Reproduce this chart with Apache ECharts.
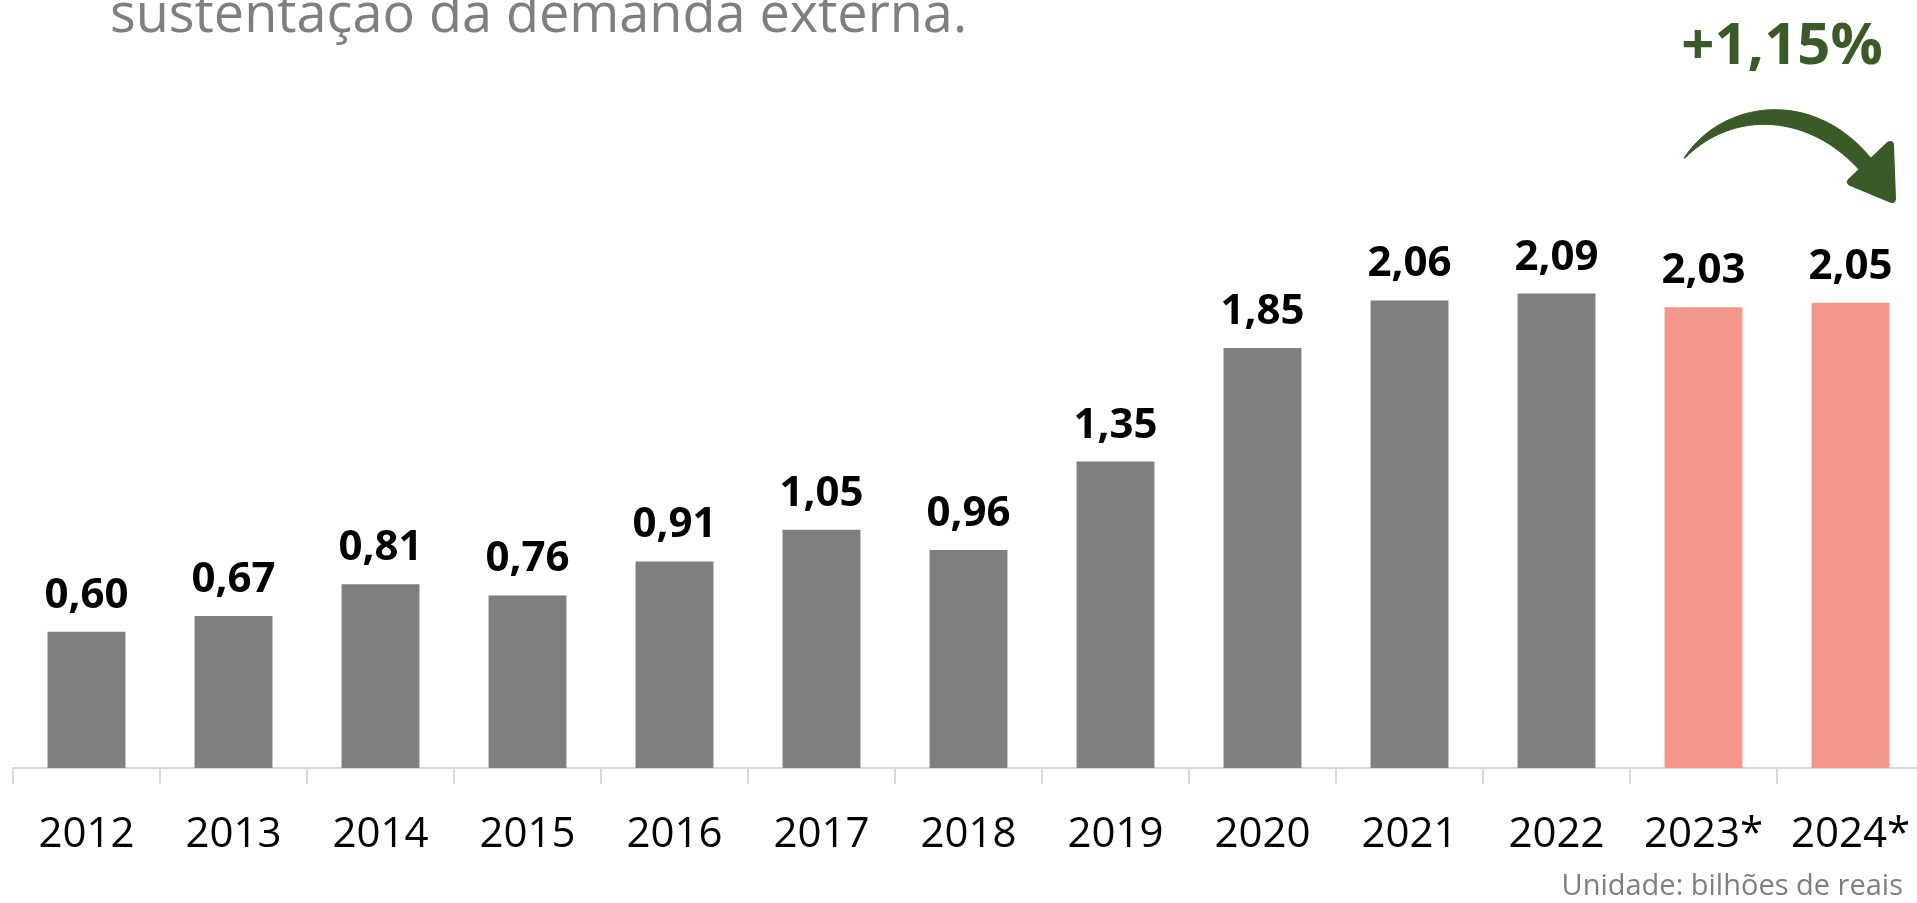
<!DOCTYPE html>
<html>
<head>
<meta charset="utf-8">
<script src="https://cdn.jsdelivr.net/npm/echarts@6/dist/echarts.min.js"></script>
<style>
html,body{margin:0;padding:0;background:#fff;}
#chart{width:1917px;height:903px;}
</style>
</head>
<body>
<div id="chart"></div>
<script>
const categories = ['2012','2013','2014','2015','2016','2017','2018','2019','2020','2021','2022','2023*','2024*'];
const values = [0.60,0.67,0.81,0.76,0.91,1.05,0.96,1.35,1.85,2.06,2.09,2.03,2.05];
const projected = [false,false,false,false,false,false,false,false,false,false,false,true,true];
const titleText = 'sustentaçao da demanda externa.';
const growthText = '+1,15%';
const unitText = 'Unidade: bilhões de reais';

const GRAY = '#7f7f7f';
const SALMON = '#f4978a';
const GREEN = '#3a5a27';
const FONT = '"Open Sans", "Noto Sans", sans-serif';

// decorative curved arrow outline (sampled cubic curves)
function cubic(p0, p1, p2, p3, n) {
  const pts = [];
  for (let i = 0; i <= n; i++) {
    const t = i / n, u = 1 - t;
    pts.push([
      u*u*u*p0[0] + 3*u*u*t*p1[0] + 3*u*t*t*p2[0] + t*t*t*p3[0],
      u*u*u*p0[1] + 3*u*u*t*p1[1] + 3*u*t*t*p2[1] + t*t*t*p3[1]
    ]);
  }
  return pts;
}
const shaft = cubic([1684,158],[1722,100],[1815,86],[1874,162],40)
  .concat(cubic([1863,174],[1812,114],[1735,108],[1685,158],40));

const chart = echarts.init(document.getElementById('chart'));
chart.setOption({
  animation: false,
  backgroundColor: '#ffffff',
  grid: {left: 13, width: 1911, top: 87, height: 681, containLabel: false, outerBoundsMode: 'none'},
  xAxis: {
    type: 'category',
    data: categories,
    axisLine: {lineStyle: {color: '#d9d9d9', width: 2}},
    axisTick: {show: true, interval: 0, length: 16, lineStyle: {color: '#d9d9d9', width: 2}},
    axisLabel: {interval: 0, color: '#000', fontSize: 42, fontFamily: FONT, margin: 46}
  },
  yAxis: {type: 'value', min: 0, max: 3, show: false, splitLine: {show: false}},
  series: [{
    type: 'bar',
    barWidth: '53%',
    data: values.map((v, i) => ({value: v, itemStyle: {color: projected[i] ? SALMON : GRAY}})),
    label: {
      show: true, position: 'top', distance: 15,
      color: '#000', fontSize: 42, fontWeight: 'bold', fontFamily: FONT,
      formatter: p => p.value.toFixed(2).replace('.', ',')
    }
  }],
  graphic: [
    {type: 'text', x: 110, y: 17, style: {text: titleText, fill: GRAY, font: '54px ' + FONT, verticalAlign: 'middle'}},
    {type: 'text', x: 1782, y: 47, style: {text: growthText, fill: GREEN, font: 'bold 58px ' + FONT, align: 'center', verticalAlign: 'middle'}},
    {type: 'polygon', shape: {points: shaft}, style: {fill: GREEN, stroke: GREEN, lineWidth: 1}},
    {type: 'polygon', shape: {points: [[1851,182],[1892,199],[1890,145]]}, style: {fill: GREEN, stroke: GREEN, lineWidth: 8, lineJoin: 'round'}},
    {type: 'text', x: 1903, y: 887, style: {text: unitText, fill: GRAY, font: '29px ' + FONT, align: 'right', verticalAlign: 'middle'}}
  ]
});
</script>
</body>
</html>
